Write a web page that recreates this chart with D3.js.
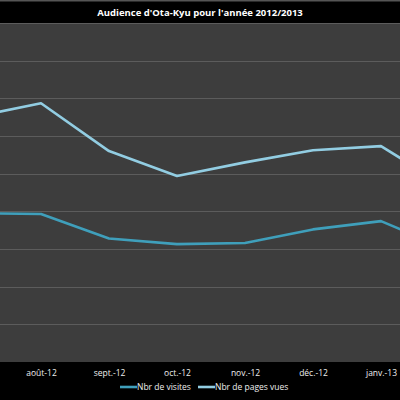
<html>
    <head>
        <meta charset="utf-8">
        <script src="https://d3js.org/d3.v7.min.js" charset="utf-8"></script>
        <style>
            body { margin: 0; background: #000; }
        </style>
    </head>

    <body>
    </body>

    <script>
        // Months shown in the chart (first and last ones are cut off by the edges)
        var months = ["juil.-12", "août-12", "sept.-12", "oct.-12", "nov.-12", "déc.-12", "janv.-13", "févr.-13"];
        var visibleMonths = ["août-12", "sept.-12", "oct.-12", "nov.-12", "déc.-12", "janv.-13"];

        // Values
        var visites = [3950, 3930, 3280, 3130, 3160, 3520, 3740, 2980];
        var pagesVues = [6500, 6870, 5600, 4940, 5300, 5620, 5730, 4620];

        var gridTicks = [0, 1000, 2000, 3000, 4000, 5000, 6000, 7000, 8000, 9000];

        var width = 400;
        var height = 400;
        var plotTop = 23;
        var plotBottom = 362;

        var svg = d3.select("body").append("svg")
            .attr("width", width)
            .attr("height", height);

        // black background with a thin grey line at the very top
        svg.append("rect").attr("width", width).attr("height", height).attr("fill", "#000");
        svg.append("rect").attr("width", width).attr("height", 1.5).attr("fill", "#555");

        // plot area
        svg.append("rect")
            .attr("x", 0)
            .attr("y", plotTop)
            .attr("width", width)
            .attr("height", plotBottom - plotTop)
            .attr("fill", "#3d3d3d");

        // x positions: one month is about 68px apart, août-12 sits at x=41
        var x = d3.scalePoint()
            .domain(months)
            .range([-27, 449]);

        var y = d3.scaleLinear()
            .domain([0, 9000])
            .range([plotBottom, plotTop]);

        // gridlines
        svg.append("g")
            .selectAll("line")
            .data(gridTicks.slice(1))
            .enter().append("line")
            .attr("x1", 0)
            .attr("x2", width)
            .attr("y1", function(d) { return Math.round(y(d)) + 0.5; })
            .attr("y2", function(d) { return Math.round(y(d)) + 0.5; })
            .attr("stroke", "#5c5c5c")
            .attr("stroke-width", 1.2);

        var line = d3.line()
            .x(function(d, i) { return x(months[i]); })
            .y(function(d) { return y(d); });

        svg.append("path")
            .datum(visites)
            .attr("d", line)
            .attr("fill", "none")
            .attr("stroke", "#3f9fbb")
            .attr("stroke-width", 2.6)
            .attr("stroke-linejoin", "round");

        svg.append("path")
            .datum(pagesVues)
            .attr("d", line)
            .attr("fill", "none")
            .attr("stroke", "#92cde2")
            .attr("stroke-width", 2.6)
            .attr("stroke-linejoin", "round");

        // title
        svg.append("text")
            .attr("x", 200)
            .attr("y", 16)
            .attr("text-anchor", "middle")
            .attr("fill", "#fff")
            .attr("font-family", "Open Sans, sans-serif")
            .attr("font-size", 9.5)
            .attr("font-weight", "bold")
            .text("Audience d'Ota-Kyu pour l'année 2012/2013");

        // x axis labels
        var xAxis = d3.axisBottom(x)
            .tickValues(visibleMonths)
            .tickSize(0)
            .tickPadding(0);

        var axisG = svg.append("g")
            .attr("transform", "translate(0," + 370 + ")")
            .call(xAxis);
        axisG.select(".domain").remove();
        axisG.selectAll("text")
            .attr("fill", "#eee")
            .attr("font-family", "Open Sans, sans-serif")
            .attr("font-size", 8.5);

        // legend
        var legendItems = [
            { name: "Nbr de visites", color: "#3f9fbb", x: 120 },
            { name: "Nbr de pages vues", color: "#92cde2", x: 198 }
        ];
        var legend = svg.append("g")
            .selectAll("g")
            .data(legendItems)
            .enter().append("g")
            .attr("transform", function(d) { return "translate(" + d.x + ",387)"; });
        legend.append("line")
            .attr("x1", 0)
            .attr("x2", 17)
            .attr("stroke", function(d) { return d.color; })
            .attr("stroke-width", 2.6);
        legend.append("text")
            .attr("x", 17)
            .attr("y", 3)
            .attr("fill", "#eee")
            .attr("font-family", "Open Sans, sans-serif")
            .attr("font-size", 8.5)
            .text(function(d) { return d.name; });
    </script>
</html>
